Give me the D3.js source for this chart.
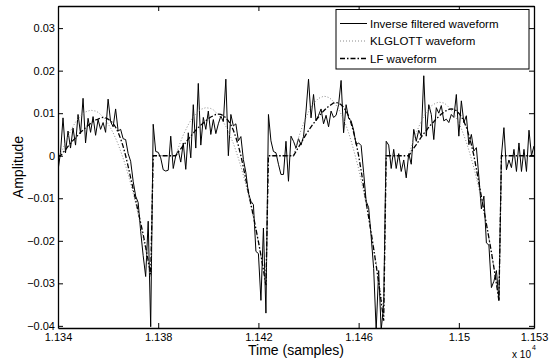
<!DOCTYPE html>
<html>
<head>
<meta charset="utf-8">
<script src="https://cdn.jsdelivr.net/npm/d3@7"></script>
<style>
  body { margin: 0; background: #fff; }
  svg { display: block; font-family: "Liberation Sans", Arial, Helvetica, sans-serif; }
</style>
</head>
<body>
<div id="chart"></div>
<script>
// sample axis: one value per sample, 11340 .. 11530
const firstSample = 11340;
const samples = d3.range(firstSample, 11531);

// inverse filtered waveform (amplitude per sample)
const inverseFiltered = [
  -0.0035, 0.0008, 0.0089, 0.0007, 0.0058, 0.0018, 0.0065, 0.0025, 0.0097, 0.0052,
  0.0135, 0.003, 0.0088, 0.0055, 0.0092, 0.0048, 0.0085, 0.0062, 0.0078, 0.0055,
  0.0133, 0.008, 0.0068, 0.011, 0.0058, 0.0062, 0.004, 0.0038, 0.0005, -0.0013,
  -0.006, -0.0095, -0.011, -0.0178, -0.0235, -0.0284, -0.0154, -0.0402, 0.0074, 0.001,
  0.0008, -0.0005, -0.0033, -0.0036, -0.0034, 0.0046, -0.003, 0.0, 0.0012, -0.0015,
  0.003, -0.0032, 0.0054, -0.0005, 0.012, 0.0018, 0.017, 0.0025, 0.009, 0.0062,
  0.0105, 0.005, 0.0085, 0.0052, 0.0075, 0.0093, 0.008, 0.018, 0.0, 0.0097,
  0.007, 0.0075, 0.0035, 0.0045, -0.0009, -0.004, -0.0088, -0.0107, -0.0115, -0.0225,
  -0.023, -0.034, -0.017, -0.037, 0.0097, 0.0035, 0.001, 0.0007, -0.002, -0.0044,
  -0.0044, 0.0034, -0.006, 0.0046, 0.0034, 0.0018, 0.004, 0.0025, 0.0045, 0.0105,
  0.018, 0.0089, 0.0144, 0.0082, 0.0095, 0.011, 0.0075, 0.0095, 0.0068, 0.0105,
  0.009, 0.0095, 0.012, 0.0177, 0.0054, 0.012, 0.0088, 0.0082, 0.006, 0.0026,
  0.003, 0.0024, -0.004, -0.0107, -0.0122, -0.019, -0.0265, -0.041, -0.027, -0.041,
  -0.035, 0.0034, 0.0025, -0.003, 0.0015, -0.003, 0.0005, -0.0037, -0.001, -0.0052,
  0.0005, -0.002, 0.0062, 0.0034, 0.006, 0.0046, 0.0188, 0.0046, 0.012, 0.0097,
  0.0038, 0.0113, 0.01, 0.0118, 0.0082, 0.0086, 0.0078, 0.0097, 0.009, 0.0144,
  0.0046, 0.0129, 0.0078, 0.0094, 0.0026, 0.005, 0.0011, 0.0019, -0.005, -0.0125,
  -0.0095, -0.0205, -0.021, -0.031, -0.0295, -0.027, -0.034, 0.0, 0.0066, -0.0033,
  -0.001, -0.0028, 0.0015, -0.0037, 0.003, -0.0037, 0.0015, -0.0037, 0.006, 0.0,
  0.0023
];

// KLGLOTT model waveform
const klglott = [
  0,
  0, 0.0017, 0.0032, 0.0046, 0.0058, 0.0069, 0.0079, 0.0087, 0.0093, 0.0099,
  0.0103, 0.0105, 0.0107, 0.0106, 0.0105, 0.0102, 0.0097, 0.0091, 0.0084, 0.0075,
  0.0065, 0.0054, 0.0041, 0.0027, 0.0011, -0.0006, -0.0024, -0.0044, -0.0065, -0.0088,
  -0.0112, -0.0138, -0.0165, -0.0193, -0.0223, -0.0254, -0.0286,
  0, 0, 0, 0, 0, 0, 0, 0, 0,
  0, 0.0018, 0.0034, 0.0049, 0.0061, 0.0073, 0.0083, 0.0092, 0.0098, 0.0105,
  0.0109, 0.0111, 0.0113, 0.0112, 0.0111, 0.0108, 0.0102, 0.0096, 0.0089, 0.0079,
  0.0069, 0.0057, 0.0043, 0.0029, 0.0012, -0.0006, -0.0025, -0.0046, -0.0069, -0.0093,
  -0.0118, -0.0146, -0.0174, -0.0204, -0.0235, -0.0268, -0.0302,
  0, 0, 0, 0, 0, 0, 0, 0, 0, 0,
  0, 0.0022, 0.0042, 0.006, 0.0076, 0.009, 0.0103, 0.0114, 0.0122, 0.0129,
  0.0135, 0.0137, 0.014, 0.0139, 0.0137, 0.0133, 0.0127, 0.0119, 0.011, 0.0098,
  0.0085, 0.0071, 0.0054, 0.0035, 0.0014, -0.0008, -0.0031, -0.0058, -0.0085, -0.0115,
  -0.0146, -0.0181, -0.0216, -0.0252, -0.0292, -0.0332, -0.0374,
  0, 0, 0, 0, 0, 0, 0, 0, 0,
  0, 0.002, 0.0038, 0.0054, 0.0068, 0.0081, 0.0093, 0.0102, 0.011, 0.0117,
  0.0121, 0.0124, 0.0126, 0.0125, 0.0124, 0.012, 0.0114, 0.0107, 0.0099, 0.0088,
  0.0077, 0.0064, 0.0048, 0.0032, 0.0013, -0.0007, -0.0028, -0.0052, -0.0077, -0.0104,
  -0.0132, -0.0163, -0.0194, -0.0227, -0.0263, -0.0299, -0.0337,
  0, 0, 0, 0, 0, 0, 0, 0, 0, 0, 0, 0, 0, 0
];

// LF model waveform
const lfModel = [
  0,
  0, 0.0007, 0.0014, 0.0022, 0.0029, 0.0036, 0.0042, 0.0049, 0.0055, 0.006,
  0.0066, 0.0071, 0.0076, 0.008, 0.0084, 0.0086, 0.0089, 0.009, 0.0089, 0.0086,
  0.0082, 0.0076, 0.0067, 0.0055, 0.004, 0.0022, 0, -0.0025, -0.0052, -0.0078,
  -0.0104, -0.0131, -0.0158, -0.0185, -0.0215, -0.0247, -0.0279,
  0, 0, 0, 0, 0, 0, 0, 0, 0,
  0, 0.0008, 0.0016, 0.0024, 0.0031, 0.0039, 0.0046, 0.0053, 0.006, 0.0066,
  0.0072, 0.0077, 0.0082, 0.0087, 0.0091, 0.0094, 0.0097, 0.0098, 0.0097, 0.0094,
  0.0089, 0.0082, 0.0073, 0.006, 0.0043, 0.0024, 0, -0.0027, -0.0057, -0.0085,
  -0.0114, -0.0142, -0.0172, -0.0202, -0.0234, -0.0269, -0.0304,
  0, 0, 0, 0, 0, 0, 0, 0, 0, 0,
  0, 0.001, 0.002, 0.003, 0.004, 0.005, 0.0059, 0.0068, 0.0076, 0.0084,
  0.0091, 0.0099, 0.0105, 0.0111, 0.0116, 0.012, 0.0124, 0.0125, 0.0124, 0.012,
  0.0114, 0.0105, 0.0093, 0.0076, 0.0055, 0.003, 0, -0.0035, -0.0073, -0.0109,
  -0.0145, -0.0181, -0.0219, -0.0258, -0.0299, -0.0343, -0.0388,
  0, 0, 0, 0, 0, 0, 0, 0, 0,
  0, 0.0009, 0.0018, 0.0026, 0.0035, 0.0044, 0.0052, 0.0059, 0.0067, 0.0074,
  0.008, 0.0087, 0.0092, 0.0098, 0.0102, 0.0106, 0.0109, 0.011, 0.0109, 0.0106,
  0.01, 0.0092, 0.0081, 0.0067, 0.0048, 0.0026, 0, -0.0031, -0.0064, -0.0096,
  -0.0128, -0.016, -0.0193, -0.0227, -0.0263, -0.0301, -0.0341,
  0, 0, 0, 0, 0, 0, 0, 0, 0, 0, 0, 0, 0, 0
];

const xTicks = [11340, 11380, 11420, 11460, 11500, 11530];
const xTickLabels = ["1.134", "1.138", "1.142", "1.146", "1.15", "1.153"];
const yTicks = [-0.04, -0.03, -0.02, -0.01, 0, 0.01, 0.02, 0.03];
const yTickLabels = ["\u22120.04", "\u22120.03", "\u22120.02", "\u22120.01", "0", "0.01", "0.02", "0.03"];
const legendLabels = ["Inverse filtered waveform", "KLGLOTT waveform", "LF waveform"];

const W = 549, H = 361;
const plot = { left: 58, right: 534, top: 6, bottom: 328 };

const svg = d3.select("#chart").append("svg")
  .attr("width", W)
  .attr("height", H);

const x = d3.scaleLinear()
  .domain([11340, 11530])
  .range([plot.left, plot.right]);

const y = d3.scaleLinear()
  .domain([-0.0405, 0.0352])
  .range([plot.bottom, plot.top]);

svg.append("clipPath").attr("id", "clip")
  .append("rect")
  .attr("x", plot.left).attr("y", plot.top)
  .attr("width", plot.right - plot.left)
  .attr("height", plot.bottom - plot.top);

const line = d3.line()
  .x((d, i) => x(samples[i]))
  .y(d => y(d));

const series = [
  { values: inverseFiltered, color: "#000", width: 1, dash: null },
  { values: klglott, color: "#8a8a8a", width: 1, dash: "1,2" },
  { values: lfModel, color: "#000", width: 1.3, dash: "5,2,1.5,2" }
];

const lines = svg.append("g").attr("clip-path", "url(#clip)");
series.forEach(s => {
  lines.append("path")
    .datum(s.values)
    .attr("fill", "none")
    .attr("stroke", s.color)
    .attr("stroke-width", s.width)
    .attr("stroke-dasharray", s.dash)
    .attr("d", line);
});

// axes, MATLAB style ticks pointing inward
const fmtX = d => xTickLabels[xTicks.indexOf(d)];
const fmtY = d => yTickLabels[yTicks.indexOf(d)];

const gx = svg.append("g")
  .attr("transform", "translate(0," + plot.bottom + ")")
  .call(d3.axisBottom(x).tickValues(xTicks).tickFormat(fmtX).tickSizeInner(-5).tickSizeOuter(0).tickPadding(5));
const gxTop = svg.append("g")
  .attr("transform", "translate(0," + plot.top + ")")
  .call(d3.axisTop(x).tickValues(xTicks).tickFormat("").tickSizeInner(-5).tickSizeOuter(0));
const gy = svg.append("g")
  .attr("transform", "translate(" + plot.left + ",0)")
  .call(d3.axisLeft(y).tickValues(yTicks).tickFormat(fmtY).tickSizeInner(-5).tickSizeOuter(0).tickPadding(3));
const gyRight = svg.append("g")
  .attr("transform", "translate(" + plot.right + ",0)")
  .call(d3.axisRight(y).tickValues(yTicks).tickFormat("").tickSizeInner(-5).tickSizeOuter(0));

[gx, gxTop, gy, gyRight].forEach(g => {
  g.selectAll("path.domain").attr("stroke", "#000").attr("stroke-width", 1.3);
  g.selectAll(".tick line").attr("stroke", "#000").attr("stroke-width", 1);
  g.selectAll("text").attr("fill", "#000").style("font-size", "11px")
    .style("font-family", "'Liberation Sans', Arial, sans-serif");
});

// axis titles
svg.append("text")
  .attr("x", (plot.left + plot.right) / 2)
  .attr("y", 355)
  .attr("text-anchor", "middle")
  .style("font-size", "14px")
  .text("Time (samples)");

svg.append("text")
  .attr("transform", "translate(23," + (plot.top + plot.bottom) / 2 + ") rotate(-90)")
  .attr("text-anchor", "middle")
  .style("font-size", "14px")
  .text("Amplitude");

svg.append("text")
  .attr("x", 531)
  .attr("y", 358)
  .attr("text-anchor", "end")
  .style("font-size", "10px")
  .text("x 10");
svg.append("text")
  .attr("x", 532)
  .attr("y", 350)
  .style("font-size", "7px")
  .text("4");

// legend
const legend = svg.append("g");
legend.append("rect")
  .attr("x", 336).attr("y", 9.5)
  .attr("width", 193).attr("height", 59.5)
  .attr("fill", "#fff")
  .attr("stroke", "#000")
  .attr("stroke-width", 1);

legendLabels.forEach((label, i) => {
  const ly = 23.5 + i * 17.5;
  const s = series[i];
  legend.append("line")
    .attr("x1", 340).attr("x2", 367)
    .attr("y1", ly).attr("y2", ly)
    .attr("stroke", s.color)
    .attr("stroke-width", s.width)
    .attr("stroke-dasharray", s.dash);
  legend.append("text")
    .attr("x", 370)
    .attr("y", ly)
    .attr("dy", "0.35em")
    .style("font-size", "11.5px")
    .text(label);
});
</script>
</body>
</html>
